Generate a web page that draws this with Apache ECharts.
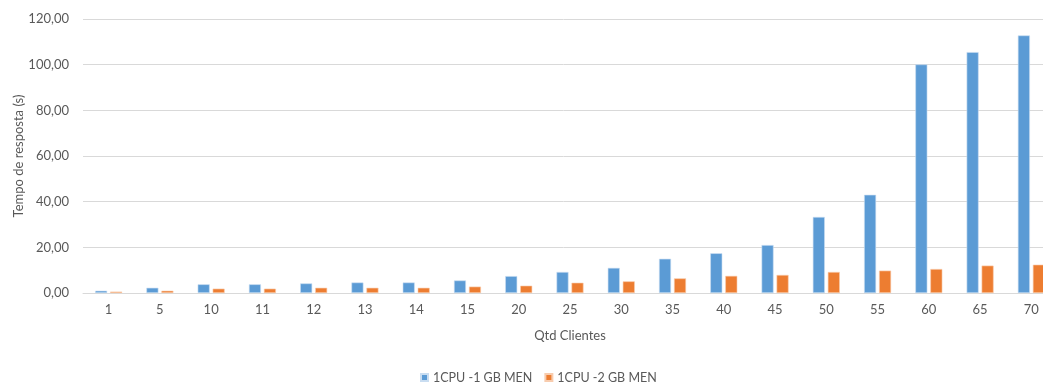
<!DOCTYPE html>
<html>
<head>
<meta charset="utf-8">
<script src="https://cdn.jsdelivr.net/npm/echarts@6/dist/echarts.min.js"></script>
<style>html,body{margin:0;padding:0;background:#fff}#c{width:1043px;height:383px}</style>
</head>
<body>
<div id="c"></div>
<script>
const categories = ['1','5','10','11','12','13','14','15','20','25','30','35','40','45','50','55','60','65','70'];
const series1Name = '1CPU -1 GB MEN';
const series2Name = '1CPU -2 GB MEN';
const series1 = [1.0,2.3,3.8,3.8,4.2,4.6,4.6,5.5,7.4,9.2,11.0,15.0,17.4,21.0,33.3,43.0,100.1,105.5,112.8];
const series2 = [0.6,1.0,1.9,1.9,2.3,2.3,2.3,2.8,3.2,4.5,5.1,6.4,7.5,7.9,9.2,9.8,10.5,12.0,12.4];
const yTicks = [0,20,40,60,80,100,120];

const font = 'Lato, "Open Sans", sans-serif';
const txt = '#595959';
const chart = echarts.init(document.getElementById('c'), null, {renderer:'canvas'});
chart.setOption({
  animation:false,
  textStyle:{fontFamily:font},
  grid:{left:83,width:974,top:19,height:274,containLabel:false,outerBoundsMode:'none'},
  legend:{
    left:415, top:366, itemWidth:7, itemHeight:7, itemGap:12, icon:'rect',
    textStyle:{color:txt,fontSize:12.5,fontFamily:font},
    data:[series1Name,series2Name]
  },
  xAxis:{
    type:'category', data:categories,
    name:'Qtd Clientes', nameLocation:'middle', nameGap:36, nameMoveOverlap:false,
    nameTextStyle:{color:txt,fontSize:13,fontFamily:font},
    axisLine:{lineStyle:{color:'#D9D9D9'}},
    axisTick:{show:false},
    axisLabel:{color:txt,fontSize:13,margin:10,fontFamily:font}
  },
  yAxis:{
    type:'value', min:yTicks[0], max:yTicks[yTicks.length-1], interval:20,
    name:'Tempo de resposta (s)', nameLocation:'middle', nameGap:58, nameRotate:90, nameMoveOverlap:false,
    nameTextStyle:{color:txt,fontSize:13,fontFamily:font},
    axisLine:{show:false}, axisTick:{show:false},
    axisLabel:{color:txt,fontSize:13,margin:14,fontFamily:font,
      formatter:v=>v.toFixed(2).replace('.',',')},
    splitLine:{lineStyle:{color:'#D9D9D9'}}
  },
  series:[
    {name:series1Name,type:'bar',data:series1,barWidth:12,barGap:'25%',
      itemStyle:{color:'#5B9BD5',borderColor:'#C9DDF1',borderWidth:0.6}},
    {name:series2Name,type:'bar',data:series2,barWidth:12,barGap:'25%',
      itemStyle:{color:'#ED7D31',borderColor:'#F8CCAE',borderWidth:0.6}}
  ]
});
</script>
</body>
</html>
